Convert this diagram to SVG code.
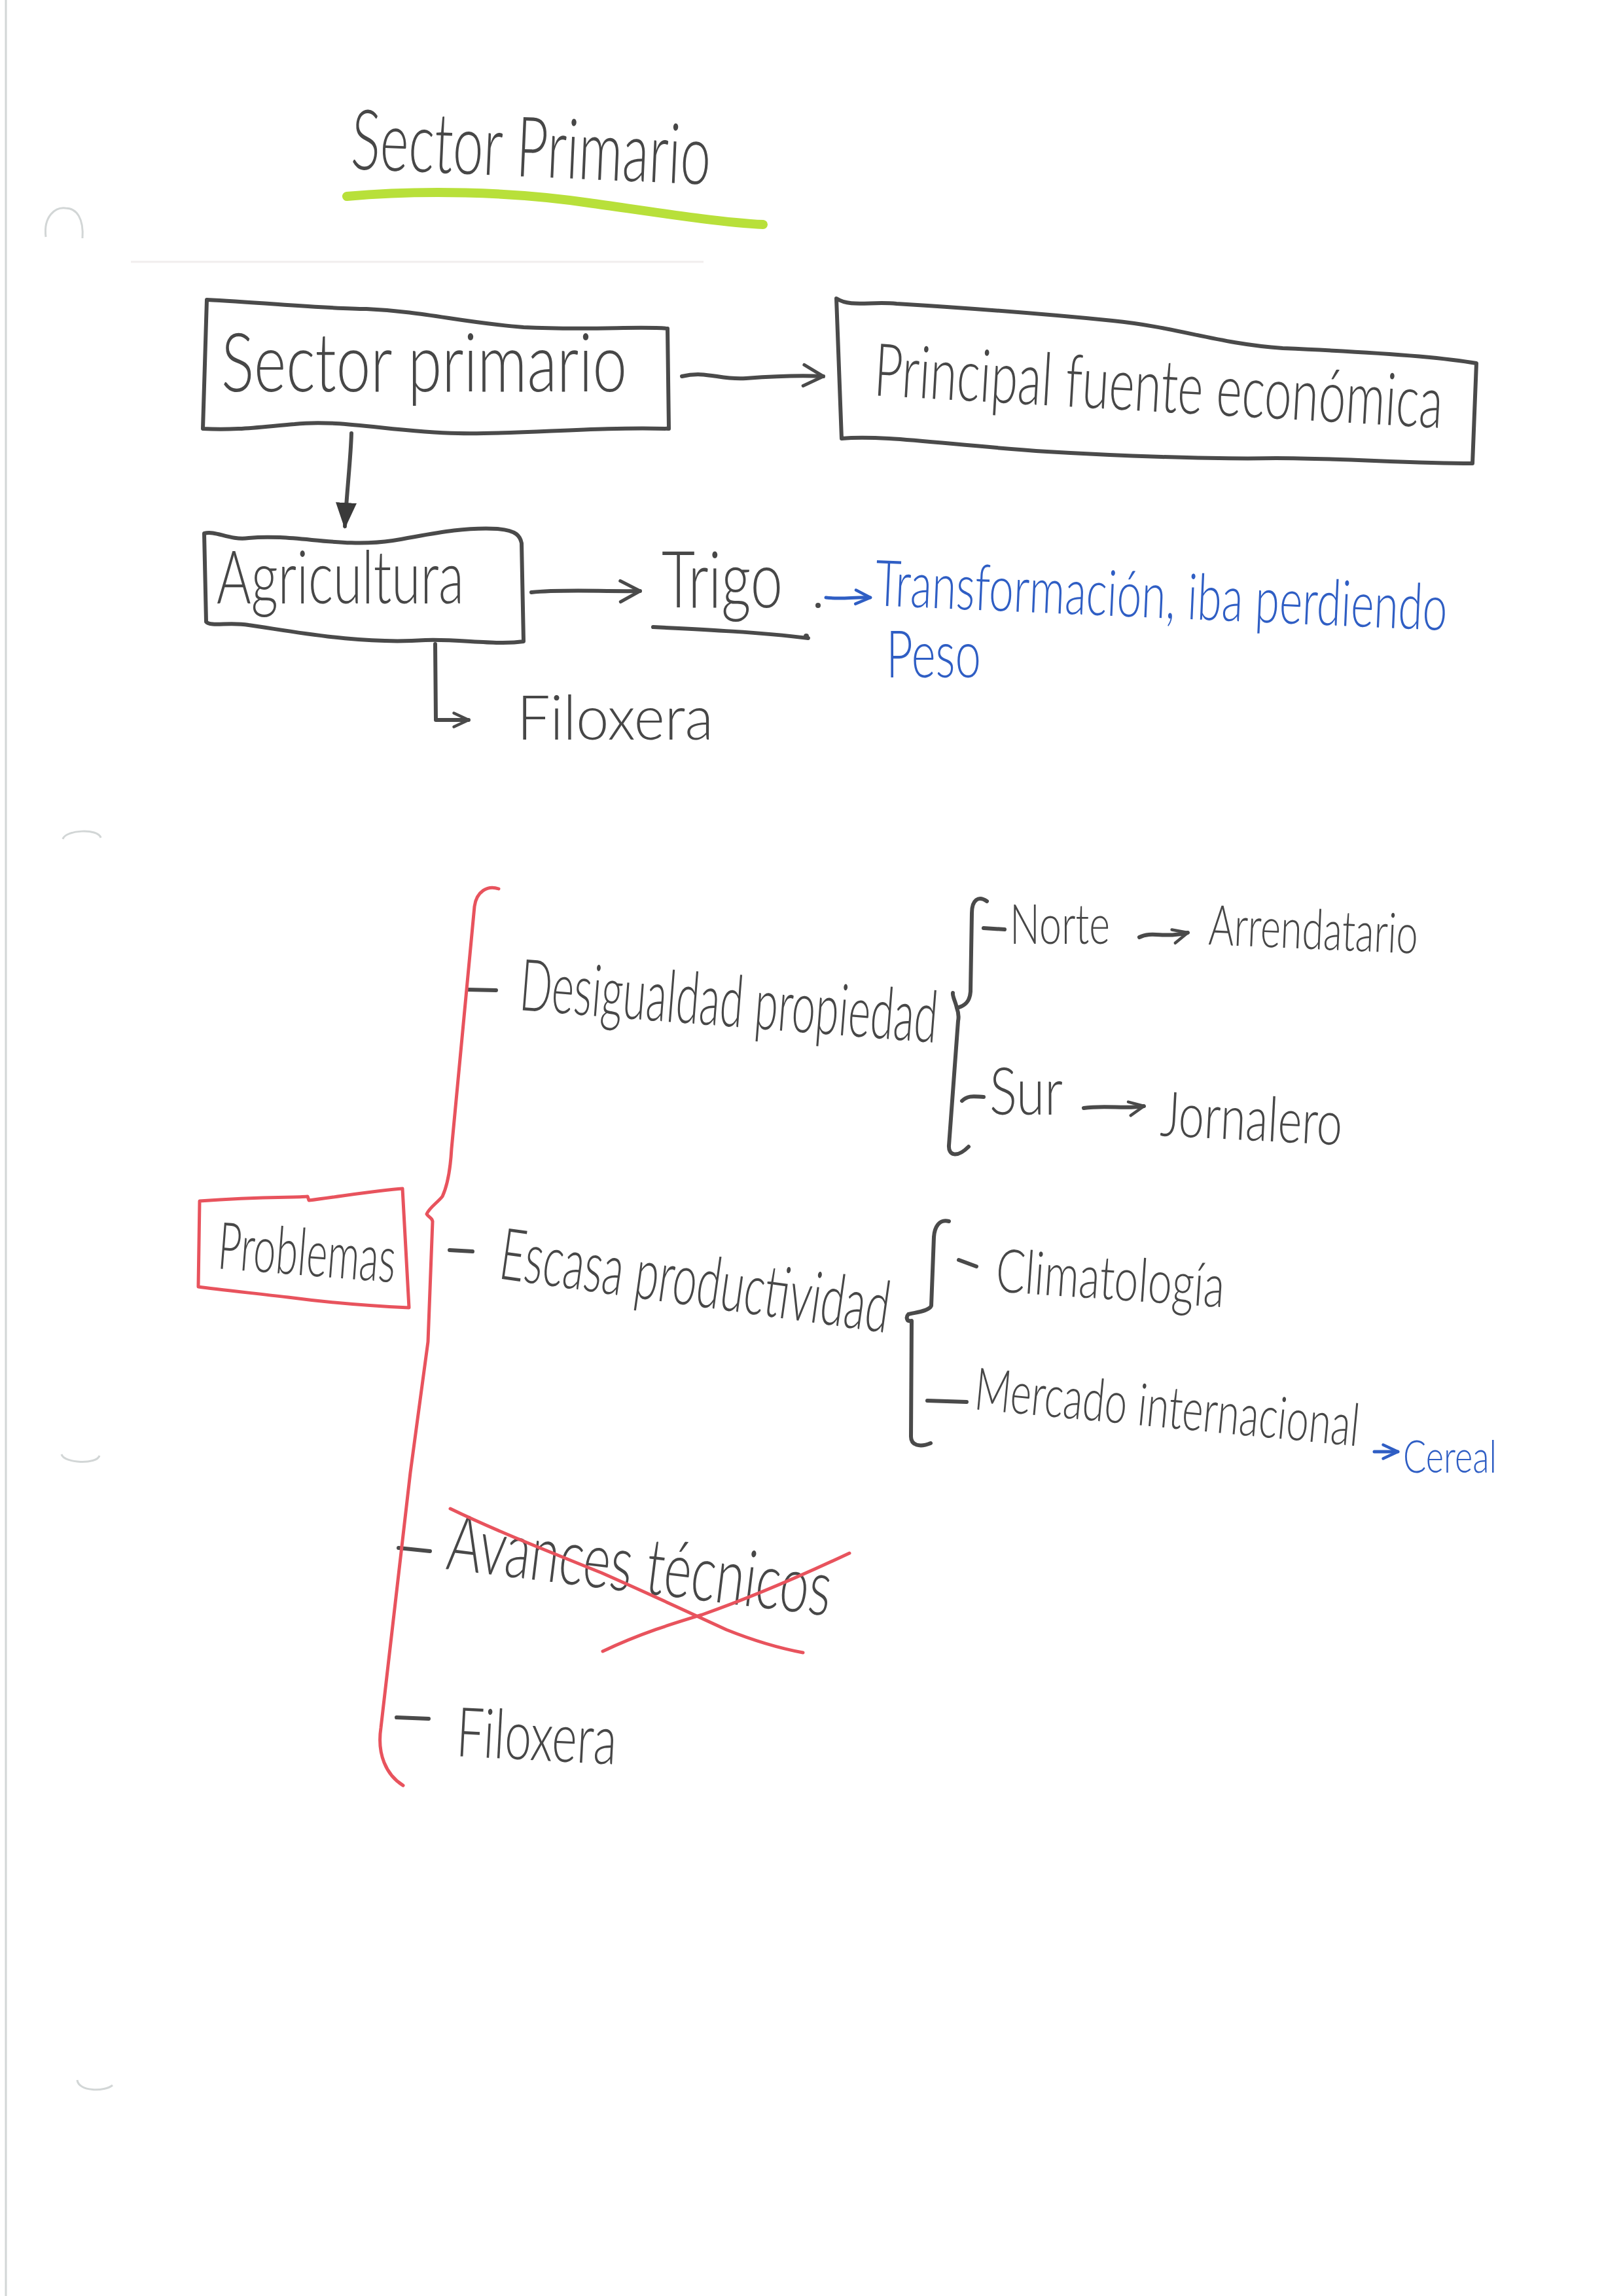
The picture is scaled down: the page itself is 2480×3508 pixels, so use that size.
<svg xmlns="http://www.w3.org/2000/svg" width="2480" height="3508" viewBox="0 0 2480 3508">
<style>
.t{font-family:Lato,"Liberation Sans",sans-serif;font-weight:300;fill:#474747}
.tb{font-family:Lato,"Liberation Sans",sans-serif;font-weight:300;fill:#2f5ec4}
.ln{fill:none;stroke:#4a4a4a;stroke-width:6;stroke-linecap:round;stroke-linejoin:round}
.red{fill:none;stroke:#e8535d;stroke-width:5;stroke-linecap:round;stroke-linejoin:round}
.bl{fill:none;stroke:#2f5ec4;stroke-width:5;stroke-linecap:round}
.faint{fill:none;stroke:#d2d6d6;stroke-width:3}
</style>
<defs>
<marker id="ah" viewBox="0 0 20 20" refX="18" refY="10" markerWidth="40" markerHeight="40" markerUnits="userSpaceOnUse" orient="auto"><path d="M3,2 L18,10 L3,18" fill="none" stroke="#4a4a4a" stroke-width="2.5" stroke-linecap="round" stroke-linejoin="round"/></marker>
<marker id="ahs" viewBox="0 0 20 20" refX="18" refY="10" markerWidth="30" markerHeight="30" markerUnits="userSpaceOnUse" orient="auto"><path d="M3,3 L18,10 L3,17" fill="none" stroke="#4a4a4a" stroke-width="3" stroke-linecap="round" stroke-linejoin="round"/></marker>
<marker id="ahf" viewBox="0 0 20 20" refX="18" refY="10" markerWidth="40" markerHeight="40" markerUnits="userSpaceOnUse" orient="auto"><path d="M0,2 L20,10 L0,18 Z" fill="#3a3a3a"/></marker>
<marker id="ahb" viewBox="0 0 20 20" refX="18" refY="10" markerWidth="30" markerHeight="30" markerUnits="userSpaceOnUse" orient="auto"><path d="M3,3 L18,10 L3,17" fill="none" stroke="#2f5ec4" stroke-width="3" stroke-linecap="round" stroke-linejoin="round"/></marker>
</defs>
<rect width="2480" height="3508" fill="#ffffff"/>
<g id="page">
<line class="faint" x1="9" y1="0" x2="9" y2="3508" stroke="#e2e6e6"/>
<line x1="200" y1="400" x2="1075" y2="400" stroke="#f1eded" stroke-width="3"/>
<path class="faint" d="M70 362 C66 330, 85 316, 100 318 C118 318, 128 335, 126 364"/>
<path class="faint" d="M96 1282 C100 1268, 150 1265, 154 1280"/>
<path class="faint" d="M94 2222 C98 2236, 148 2238, 152 2224"/>
<path class="faint" d="M118 3178 C120 3196, 160 3196, 172 3186"/>
</g>
<g id="title">
<text class="t" x="535" y="258" font-size="128" textLength="550" lengthAdjust="spacingAndGlyphs" transform="rotate(2.5 535 258)">Sector Primario</text>
<path d="M530 300 C640 290, 780 292, 900 310 C1000 324, 1100 340, 1166 343" fill="none" stroke="#b8e03a" stroke-width="14" stroke-linecap="round"/>
</g>
<g id="node-sector">
<path class="ln" d="M316 458 C400 462, 500 472, 560 472 C650 476, 700 492, 800 500 C900 505, 980 498, 1020 502 L1022 655 C900 652, 800 664, 700 662 C600 660, 520 640, 450 648 C400 652, 360 658, 310 655 Z"/>
<text class="t" x="338" y="598" font-size="125" textLength="620" lengthAdjust="spacingAndGlyphs">Sector primario</text>
</g>
<g id="node-fuente">
<path class="ln" d="M1278 456 C1300 470, 1330 460, 1370 464 C1500 472, 1600 480, 1700 490 C1800 500, 1860 525, 1960 532 C2100 538, 2200 545, 2256 555 L2250 708 C2150 708, 2050 700, 1950 700 C1850 702, 1700 696, 1600 690 C1450 680, 1350 664, 1286 670 Z"/>
<text class="t" x="0" y="0" font-size="70" textLength="870" lengthAdjust="spacingAndGlyphs" transform="translate(1334 604) rotate(3.3) scale(1 1.6)">Principal fuente económica</text>
</g>
<g id="node-agricultura">
<path class="ln" d="M312 815 C330 810, 350 826, 380 822 C450 815, 520 838, 600 826 C650 818, 700 805, 760 808 C790 810, 795 820, 797 830 L800 980 C760 986, 700 976, 650 978 C550 985, 450 965, 380 955 C350 950, 322 958, 315 950 Z"/>
<text class="t" x="331" y="922" font-size="112" textLength="378" lengthAdjust="spacingAndGlyphs">Agricultura</text>
</g>
<g id="node-trigo">
<text class="t" x="1011" y="928" font-size="120" textLength="185" lengthAdjust="spacingAndGlyphs">Trigo</text>
<path class="ln" d="M998 958 C1080 962, 1160 966, 1235 975"/>
</g>
<g id="node-transformacion">
<text class="tb" x="0" y="0" font-size="60" textLength="875" lengthAdjust="spacingAndGlyphs" transform="translate(1336 925) rotate(2.5) scale(1 1.63)">Transformación, iba perdiendo</text>
<text class="tb" x="1354" y="1035" font-size="100" textLength="145" lengthAdjust="spacingAndGlyphs">Peso</text>
</g>
<g id="node-filoxera1">
<text class="t" x="790" y="1130" font-size="95" textLength="300" lengthAdjust="spacingAndGlyphs">Filoxera</text>
</g>
<g id="node-problemas">
<path class="red" d="M305 1835 C400 1828, 450 1830, 470 1828 L472 1834 C520 1828, 580 1818, 615 1816 L625 1998 C560 1995, 500 1990, 440 1982 C380 1975, 330 1970, 303 1966 Z"/>
<text class="t" x="331" y="1938" font-size="100" textLength="272" lengthAdjust="spacingAndGlyphs" transform="rotate(4.5 331 1938)">Problemas</text>
</g>
<g id="node-desigualdad">
<line class="ln" x1="714" y1="1512" x2="758" y2="1513"/>
<text class="t" x="792" y="1543" font-size="110" textLength="640" lengthAdjust="spacingAndGlyphs" transform="rotate(4.5 792 1543)">Desigualdad propiedad</text>
</g>
<g id="node-norte">
<line class="ln" x1="1503" y1="1418" x2="1535" y2="1420"/>
<text class="t" x="1543" y="1442" font-size="85" textLength="153" lengthAdjust="spacingAndGlyphs">Norte</text>
</g>
<g id="node-arrendatario">
<text class="t" x="1846" y="1443" font-size="85" textLength="320" lengthAdjust="spacingAndGlyphs" transform="rotate(2.5 1846 1443)">Arrendatario</text>
</g>
<g id="node-sur">
<path class="ln" d="M1470 1682 C1480 1672, 1492 1676, 1503 1676"/>
<text class="t" x="1512" y="1703" font-size="100" textLength="112" lengthAdjust="spacingAndGlyphs">Sur</text>
</g>
<g id="node-jornalero">
<text class="t" x="1772" y="1735" font-size="95" textLength="278" lengthAdjust="spacingAndGlyphs" transform="rotate(3 1772 1735)">Jornalero</text>
</g>
<g id="node-escasa">
<line class="ln" x1="687" y1="1910" x2="722" y2="1912"/>
<text class="t" x="760" y="1953" font-size="110" textLength="600" lengthAdjust="spacingAndGlyphs" transform="rotate(8 760 1953)">Escasa productividad</text>
</g>
<g id="node-climatologia">
<line class="ln" x1="1465" y1="1925" x2="1492" y2="1935"/>
<text class="t" x="1520" y="1973" font-size="92" textLength="350" lengthAdjust="spacingAndGlyphs" transform="rotate(4 1520 1973)">Climatología</text>
</g>
<g id="node-mercado">
<line class="ln" x1="1417" y1="2140" x2="1477" y2="2142"/>
<text class="t" x="1487" y="2153" font-size="90" textLength="590" lengthAdjust="spacingAndGlyphs" transform="rotate(5.5 1487 2153)">Mercado internacional</text>
</g>
<g id="node-cereal">
<text class="tb" x="2144" y="2250" font-size="68" textLength="143" lengthAdjust="spacingAndGlyphs">Cereal</text>
</g>
<g id="node-avances">
<line class="ln" x1="609" y1="2365" x2="657" y2="2370"/>
<text class="t" x="680" y="2397" font-size="120" textLength="590" lengthAdjust="spacingAndGlyphs" transform="rotate(7 680 2397)">Avances técnicos</text>
<path class="red" d="M688 2305 C760 2340, 850 2375, 919 2403 C980 2430, 1052 2463, 1110 2490 C1160 2510, 1200 2520, 1227 2525"/>
<path class="red" d="M921 2523 C980 2495, 1030 2480, 1073 2467 C1150 2440, 1230 2405, 1298 2373"/>
</g>
<g id="node-filoxera2">
<line class="ln" x1="606" y1="2624" x2="655" y2="2626"/>
<text class="t" x="696" y="2683" font-size="105" textLength="245" lengthAdjust="spacingAndGlyphs" transform="rotate(3 696 2683)">Filoxera</text>
</g>
<g id="connectors">
<path class="ln" d="M1042 575 C1080 566, 1100 581, 1140 578 C1180 575, 1220 573, 1258 575" marker-end="url(#ah)"/>
<path class="ln" d="M537 662 C536 700, 530 750, 527 804" marker-end="url(#ahf)"/>
<path class="ln" d="M812 905 C860 900, 920 904, 978 903" marker-end="url(#ah)"/>
<path class="ln" d="M665 984 L666 1100 L716 1100" marker-end="url(#ahs)"/>
<circle cx="1250" cy="925" r="4" fill="#4a4a4a"/>
<circle cx="1232" cy="972" r="4" fill="#4a4a4a"/>
<path class="bl" d="M1262 913 C1285 916, 1305 912, 1330 913" marker-end="url(#ahb)"/>
<path class="ln" d="M1741 1432 C1760 1422, 1780 1434, 1815 1425" marker-end="url(#ahs)"/>
<path class="ln" d="M1656 1693 C1690 1688, 1720 1695, 1748 1690" marker-end="url(#ahs)"/>
<path class="bl" d="M2100 2218 L2136 2218" marker-end="url(#ahb)"/>
<path class="red" d="M762 1358 C745 1352, 728 1362, 725 1385 L690 1755 C688 1790, 682 1815, 676 1828 C668 1838, 656 1845, 652 1855 C655 1860, 660 1860, 661 1866 L654 2050 L627 2250 L582 2640 C576 2680, 590 2712, 616 2728"/>
<path class="ln" d="M1508 1377 C1495 1368, 1485 1375, 1485 1395 L1483 1515 C1482 1530, 1475 1537, 1462 1540 C1460 1530, 1455 1522, 1456 1517 M1462 1540 C1465 1548, 1465 1555, 1464 1560 L1450 1750 C1449 1765, 1462 1770, 1480 1752" stroke-width="5"/>
<path class="ln" d="M1450 1866 C1435 1862, 1428 1875, 1427 1890 L1423 1995 C1420 2003, 1400 2005, 1388 2008 C1384 2012, 1385 2020, 1393 2018 L1392 2195 C1392 2208, 1405 2212, 1422 2205" stroke-width="5"/>
</g>
</svg>
